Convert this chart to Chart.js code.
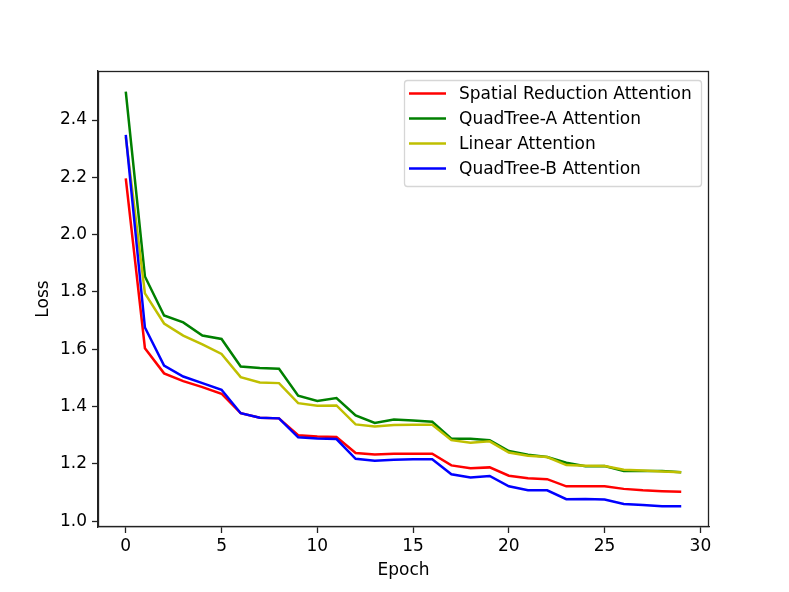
<!DOCTYPE html>
<html>
<head>
<meta charset="utf-8">
<script src="https://cdn.jsdelivr.net/npm/chart.js@4/dist/chart.umd.min.js"></script>
<style>
  html, body { margin: 0; padding: 0; background: #fff; }
  #wrap { width: 789px; height: 592px; }
</style>
</head>
<body>
<div id="wrap"><canvas id="lossChart"></canvas></div>
<script>
const epochs = [0, 1, 2, 3, 4, 5, 6, 7, 8, 9, 10, 11, 12, 13, 14, 15, 16, 17, 18, 19, 20, 21, 22, 23, 24, 25, 26, 27, 28, 29];

const spatialReduction = [2.196, 1.604, 1.516, 1.489, 1.468, 1.445, 1.377, 1.361, 1.359, 1.300, 1.296, 1.294, 1.238, 1.233, 1.236, 1.236, 1.236, 1.195, 1.185, 1.188, 1.159, 1.150, 1.147, 1.122, 1.122, 1.122, 1.113, 1.108, 1.105, 1.103];
const quadTreeA = [2.499, 1.854, 1.718, 1.694, 1.648, 1.636, 1.540, 1.535, 1.532, 1.438, 1.420, 1.430, 1.369, 1.343, 1.355, 1.352, 1.347, 1.288, 1.288, 1.283, 1.245, 1.232, 1.224, 1.204, 1.192, 1.193, 1.175, 1.175, 1.175, 1.171];
const linearAttn = [2.340, 1.795, 1.690, 1.648, 1.617, 1.584, 1.503, 1.484, 1.482, 1.412, 1.403, 1.404, 1.338, 1.331, 1.336, 1.337, 1.337, 1.283, 1.274, 1.279, 1.240, 1.229, 1.224, 1.196, 1.194, 1.193, 1.180, 1.177, 1.174, 1.171];
const quadTreeB = [2.348, 1.676, 1.543, 1.505, 1.482, 1.459, 1.377, 1.361, 1.359, 1.293, 1.289, 1.287, 1.218, 1.211, 1.215, 1.216, 1.216, 1.164, 1.153, 1.158, 1.122, 1.108, 1.108, 1.077, 1.078, 1.076, 1.060, 1.057, 1.052, 1.052];

const xTicks = [0, 5, 10, 15, 20, 25, 30];
const yTicks = [1.0, 1.2, 1.4, 1.6, 1.8, 2.0, 2.2, 2.4];

const FONT = 'DejaVu Sans';
const FSIZE = 17;

function pts(values) {
  return values.map((v, i) => ({ x: epochs[i], y: v }));
}

// matplotlib-like frame + legend box in the upper right
const framePlugin = {
  id: 'frame',
  afterDraw(chart) {
    const { ctx, chartArea: a } = chart;
    ctx.save();
    ctx.strokeStyle = '#222';
    ctx.lineWidth = 1.3;
    ctx.strokeRect(a.left + 0.5, a.top + 0.5, a.right - a.left - 1, a.bottom - a.top - 1);

    const bx = a.right - 305, by = a.top + 9, bw = 297, bh = 106;
    ctx.beginPath();
    ctx.roundRect(bx + 0.5, by + 0.5, bw, bh, 3);
    ctx.fillStyle = 'rgba(255,255,255,0.8)';
    ctx.fill();
    ctx.strokeStyle = '#d6d6d6';
    ctx.lineWidth = 1.3;
    ctx.stroke();

    ctx.font = FSIZE + 'px "' + FONT + '"';
    ctx.textBaseline = 'middle';
    ctx.textAlign = 'left';
    chart.data.datasets.forEach((ds, i) => {
      const y = by + 13.5 + i * 25;
      ctx.strokeStyle = ds.borderColor;
      ctx.lineWidth = 2.5;
      ctx.beginPath();
      ctx.moveTo(bx + 5, y);
      ctx.lineTo(bx + 42, y);
      ctx.stroke();
      ctx.fillStyle = '#000';
      ctx.fillText(ds.label, bx + 55, y + 1);
    });
    ctx.restore();
  }
};

const ctx = document.getElementById('lossChart').getContext('2d');
new Chart(ctx, {
  type: 'line',
  data: {
    datasets: [
      { label: 'Spatial Reduction Attention', data: pts(spatialReduction), borderColor: '#ff0000', order: 4 },
      { label: 'QuadTree-A Attention', data: pts(quadTreeA), borderColor: '#008000', order: 3 },
      { label: 'Linear Attention', data: pts(linearAttn), borderColor: '#bfbf00', order: 2 },
      { label: 'QuadTree-B Attention', data: pts(quadTreeB), borderColor: '#0000ff', order: 1 },
    ],
  },
  options: {
    responsive: true,
    maintainAspectRatio: false,
    animation: false,
    datasets: { line: { borderWidth: 2.5, pointRadius: 0, tension: 0, fill: false } },
    layout: { padding: { left: 0, top: 71, right: 80, bottom: 0 } },
    plugins: { legend: { display: false }, tooltip: { enabled: false } },
    scales: {
      x: {
        type: 'linear',
        min: -1.45,
        max: 30.45,
        afterBuildTicks: (s) => { s.ticks = xTicks.map((v) => ({ value: v })); },
        afterFit: (s) => { s.height = 65; },
        grid: { drawOnChartArea: false, drawTicks: true, tickLength: 6, tickColor: '#222', tickWidth: 1.3 },
        border: { color: '#222', width: 1.3 },
        ticks: { color: '#000', padding: 3, maxRotation: 0, font: { family: FONT, size: FSIZE } },
        title: { display: true, text: 'Epoch', color: '#000', padding: { top: 0, bottom: 11 }, font: { family: FONT, size: FSIZE } },
      },
      y: {
        type: 'linear',
        min: 0.98,
        max: 2.571,
        afterBuildTicks: (s) => { s.ticks = yTicks.map((v) => ({ value: v })); },
        afterFit: (s) => { s.width = 98; },
        grid: { drawOnChartArea: false, drawTicks: true, tickLength: 6, tickColor: '#222', tickWidth: 1.3 },
        border: { color: '#222', width: 1.3 },
        ticks: { color: '#000', padding: 5, font: { family: FONT, size: FSIZE }, callback: (v) => v.toFixed(1) },
        title: { display: true, text: 'Loss', color: '#000', padding: { top: 33, bottom: 0 }, font: { family: FONT, size: FSIZE } },
      },
    },
  },
  plugins: [framePlugin],
});
</script>
</body>
</html>
